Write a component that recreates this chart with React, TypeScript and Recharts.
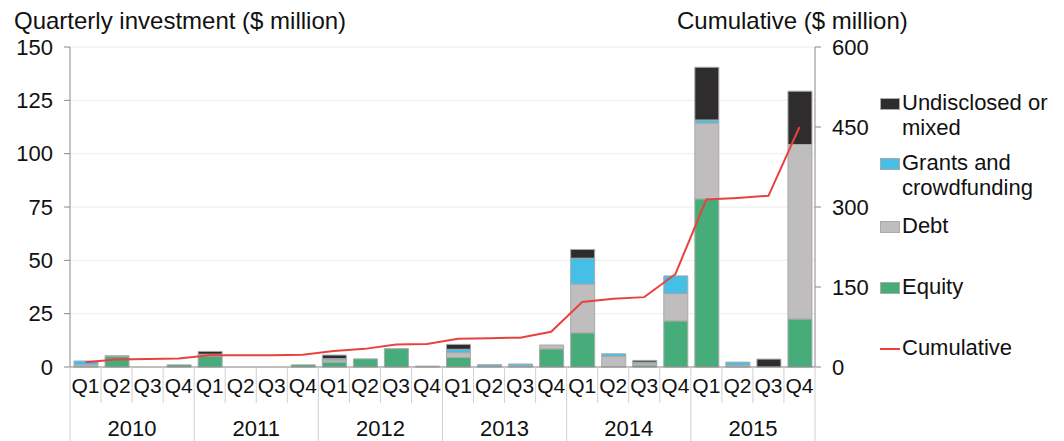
import { ComposedChart, Bar, Line, XAxis, YAxis, CartesianGrid, Legend } from "recharts";

const quarters = [
  "Q1", "Q2", "Q3", "Q4", "Q1", "Q2", "Q3", "Q4", "Q1", "Q2", "Q3", "Q4",
  "Q1", "Q2", "Q3", "Q4", "Q1", "Q2", "Q3", "Q4", "Q1", "Q2", "Q3", "Q4",
];
const years = ["2010", "2011", "2012", "2013", "2014", "2015"];

const equity = [0, 5, 0, 1, 5, 0, 0, 1, 2.3, 3.8, 8.6, 0, 4.5, 0, 0, 8.5, 16, 0, 0.9, 21.6, 78.8, 0, 0, 22.5];
const debt = [1, 0.3, 0, 0, 1, 0, 0, 0, 1, 0, 0, 0.4, 2.2, 0.3, 0.5, 1.8, 22.8, 5, 0.8, 12.8, 35.5, 0.8, 0, 81.8];
const grants = [1.8, 0, 0, 0, 0, 0, 0, 0, 0.6, 0, 0, 0, 1.6, 0.8, 0.9, 0, 12.2, 1.2, 0.6, 8.3, 1.5, 1.5, 0, 0];
const undisclosed = [0, 0, 0, 0, 1.3, 0, 0, 0, 1.7, 0, 0, 0, 2.3, 0, 0, 0, 4.1, 0, 0.8, 0, 24.7, 0, 3.7, 25];
const cumulative = [9, 14, 15, 16, 22, 22, 22, 23, 30, 34, 42, 43, 53, 54, 55, 66, 122, 128, 131, 174, 314, 317, 321, 450];

const leftTicks = [0, 25, 50, 75, 100, 125, 150];
const rightTicks = [0, 150, 300, 450, 600];

const data = quarters.map((q, i) => ({
  key: i,
  quarter: q,
  year: years[Math.floor(i / 4)],
  equity: equity[i],
  debt: debt[i],
  grants: grants[i],
  undisclosed: undisclosed[i],
  cumulative: cumulative[i],
}));

const FONT = "'Liberation Sans', Arial, sans-serif";
const STEP = 745 / 24;
const SEP = "#d0d0d0";

const legendItems = [
  { label: ["Undisclosed or", "mixed"], color: "#2e2c2d", type: "box" },
  { label: ["Grants and", "crowdfunding"], color: "#45bfe6", type: "box" },
  { label: ["Debt"], color: "#bfbdbe", type: "box" },
  { label: ["Equity"], color: "#46ad7a", type: "box" },
  { label: ["Cumulative"], color: "#e8423f", type: "line" },
];
const legendTops = [93, 153, 216, 277, 338];

const QuarterTick = (props: any) => {
  const { x, y, payload } = props;
  const i = payload.index;
  const left = x - STEP / 2;
  const top = y - 8;
  return (
    <g>
      <line x1={left} y1={top} x2={left} y2={i % 4 === 0 ? 441 : top + 36} stroke={SEP} />
      {i === 23 && <line x1={left + STEP} y1={top} x2={left + STEP} y2={441} stroke={SEP} />}
      <text x={x} y={top + 26} textAnchor="middle" fontSize={21} fill="#111" fontFamily={FONT}>
        {quarters[i]}
      </text>
      {i % 4 === 1 && (
        <text x={x + STEP / 2} y={top + 69} textAnchor="middle" fontSize={22} fill="#111" fontFamily={FONT}>
          {years[Math.floor(i / 4)]}
        </text>
      )}
    </g>
  );
};

const LegendContent = () => (
  <div style={{ position: "relative", width: 180, height: 290, fontFamily: FONT, fontSize: 22, color: "#111" }}>
    {legendItems.map((it, k) => (
      <div key={k} style={{ position: "absolute", left: 0, top: legendTops[k] - 93 }}>
        {it.type === "box" ? (
          <div style={{ position: "absolute", left: 0, top: 5, width: 18, height: 10, background: it.color, border: "1px solid #aaa" }} />
        ) : (
          <div style={{ position: "absolute", left: 0, top: 10, width: 20, height: 2, background: it.color }} />
        )}
        <div style={{ position: "absolute", left: 22, top: -3, lineHeight: "25px", whiteSpace: "nowrap" }}>
          {it.label.map((l, j) => (
            <div key={j}>{l}</div>
          ))}
        </div>
      </div>
    ))}
  </div>
);

export default function App() {
  return (
    <div style={{ position: "absolute", left: 0, top: 0, width: 1064, height: 441, background: "#fff", fontFamily: FONT }}>
      <div style={{ position: "absolute", left: 14, top: 7, fontSize: 24, color: "#111", whiteSpace: "nowrap" }}>
        Quarterly investment ($ million)
      </div>
      <div style={{ position: "absolute", left: 677, top: 7, fontSize: 24, color: "#111", whiteSpace: "nowrap" }}>
        Cumulative ($ million)
      </div>
      <ComposedChart
        width={1064}
        height={441}
        data={data}
        margin={{ top: 47, right: 189, bottom: 0, left: 0 }}
        barSize={24}
      >
        <CartesianGrid vertical={false} stroke="#ececec" yAxisId="left" />
        <XAxis
          dataKey="key"
          height={74}
          interval={0}
          tickLine={false}
          axisLine={{ stroke: "#888" }}
          tick={<QuarterTick />}
        />
        <YAxis
          yAxisId="left"
          width={70}
          domain={[0, 150]}
          ticks={leftTicks}
          axisLine={{ stroke: "#888" }}
          tickLine={{ stroke: "#888" }}
          tickSize={6}
          tickMargin={11}
          tick={{ fontSize: 22, fill: "#111", fontFamily: FONT }}
        />
        <YAxis
          yAxisId="right"
          orientation="right"
          width={60}
          domain={[0, 600]}
          ticks={rightTicks}
          axisLine={{ stroke: "#888" }}
          tickLine={{ stroke: "#888" }}
          tickSize={6}
          tickMargin={11}
          tick={{ fontSize: 22, fill: "#111", fontFamily: FONT, textAnchor: "start" }}
        />
        <Legend
          layout="horizontal"
          align="center"
          verticalAlign="middle"
          content={<LegendContent />}
          wrapperStyle={{ position: "absolute", left: 880, top: 93, width: 180 }}
        />
        <Bar yAxisId="left" dataKey="equity" stackId="a" fill="#46ad7a" stroke="#a9a9a9" strokeWidth={1} isAnimationActive={false} />
        <Bar yAxisId="left" dataKey="debt" stackId="a" fill="#bfbdbe" stroke="#a9a9a9" strokeWidth={1} isAnimationActive={false} />
        <Bar yAxisId="left" dataKey="grants" stackId="a" fill="#45bfe6" stroke="#a9a9a9" strokeWidth={1} isAnimationActive={false} />
        <Bar yAxisId="left" dataKey="undisclosed" stackId="a" fill="#2e2c2d" stroke="#a9a9a9" strokeWidth={1} isAnimationActive={false} />
        <Line yAxisId="right" dataKey="cumulative" type="linear" stroke="#e8423f" strokeWidth={2} dot={false} isAnimationActive={false} />
      </ComposedChart>
    </div>
  );
}
